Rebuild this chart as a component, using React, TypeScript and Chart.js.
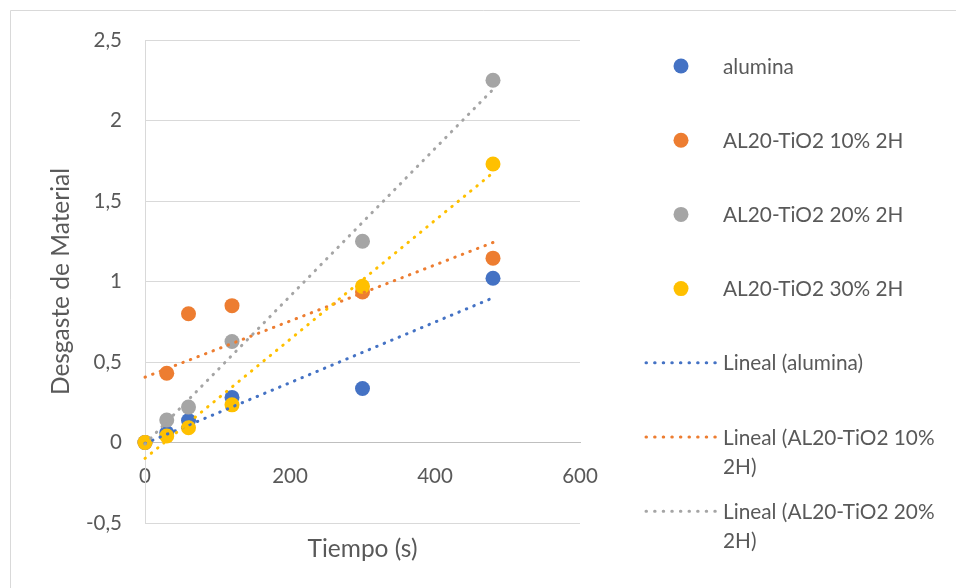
import { useEffect, useRef } from "react";
import { Chart, registerables } from "chart.js";

Chart.register(...registerables);

// Wear measurements (material loss) against test time in seconds
const TIMES = [0, 30, 60, 120, 300, 480];
const ALUMINA = [0, 0.06, 0.137, 0.28, 0.335, 1.02];
const TIO2_10 = [0, 0.43, 0.8, 0.85, 0.935, 1.145];
const TIO2_20 = [0, 0.14, 0.22, 0.627, 1.25, 2.25];
const TIO2_30 = [0, 0.04, 0.092, 0.234, 0.97, 1.73];

const SERIES_NAMES = ["alumina", "AL20-TiO2 10% 2H", "AL20-TiO2 20% 2H", "AL20-TiO2 30% 2H"];
const SERIES_VALUES = [ALUMINA, TIO2_10, TIO2_20, TIO2_30];
const SERIES_COLORS = ["#4472C4", "#ED7D31", "#A5A5A5", "#FFC000"];

const X_TICKS = [0, 200, 400, 600];
const Y_TICKS = [-0.5, 0, 0.5, 1, 1.5, 2, 2.5];

const FONT = "Lato, 'Liberation Sans', sans-serif";
const TEXT_COLOR = "#595959";
const GRID_COLOR = "#d9d9d9";
const TICK_SIZE = 20.5;
const TITLE_SIZE = 24.5;
const LEGEND_SIZE = 20.8;

// Least-squares linear trendline between first and last sample
function trendline(xs: number[], ys: number[]) {
  const n = xs.length;
  const mx = xs.reduce((a, b) => a + b, 0) / n;
  const my = ys.reduce((a, b) => a + b, 0) / n;
  let sxy = 0;
  let sxx = 0;
  for (let i = 0; i < n; i++) {
    sxy += (xs[i] - mx) * (ys[i] - my);
    sxx += (xs[i] - mx) * (xs[i] - mx);
  }
  const slope = sxy / sxx;
  const intercept = my - slope * mx;
  const x0 = Math.min(...xs);
  const x1 = Math.max(...xs);
  return [
    { x: x0, y: intercept + slope * x0 },
    { x: x1, y: intercept + slope * x1 },
  ];
}

const formatComma = (v: number) => String(v).replace(".", ",");

function wrapText(ctx: CanvasRenderingContext2D, text: string, maxWidth: number) {
  const words = text.split(" ");
  const lines: string[] = [];
  let cur = "";
  for (const w of words) {
    const test = cur ? cur + " " + w : w;
    if (cur && ctx.measureText(test).width > maxWidth) {
      lines.push(cur);
      cur = w;
    } else {
      cur = test;
    }
  }
  if (cur) lines.push(cur);
  return lines;
}

// Outer chart frame (top and left edges visible)
const framePlugin = {
  id: "frame",
  beforeDraw(chart: any) {
    const { ctx, width, height } = chart;
    ctx.save();
    ctx.fillStyle = "#ffffff";
    ctx.fillRect(0, 0, width, height);
    ctx.strokeStyle = GRID_COLOR;
    ctx.lineWidth = 1;
    ctx.beginPath();
    ctx.moveTo(10.5, height);
    ctx.lineTo(10.5, 10.5);
    ctx.lineTo(width, 10.5);
    ctx.stroke();
    ctx.restore();
  },
};

// Legend column on the right, one entry per dataset
const sideLegendPlugin = {
  id: "sideLegend",
  afterDraw(chart: any) {
    const { ctx } = chart;
    const symbolX = 681;
    const textX = 723;
    const rowGap = 74.2;
    const lineGap = 29.5;
    let y = 66;
    ctx.save();
    ctx.font = `${LEGEND_SIZE}px ${FONT}`;
    ctx.textBaseline = "alphabetic";
    ctx.textAlign = "left";
    let stop = false;
    chart.data.datasets.forEach((ds: any) => {
      if (stop) return;
      const lines = wrapText(ctx, ds.label, 226);
      if (y + (lines.length - 1) * lineGap + 12 > chart.height) {
        stop = true;
        return;
      }
      if (ds.showLine) {
        ctx.save();
        ctx.strokeStyle = ds.borderColor;
        ctx.lineWidth = 3;
        ctx.lineCap = "round";
        ctx.setLineDash([0.5, 8.1]);
        ctx.beginPath();
        ctx.moveTo(646, y);
        ctx.lineTo(716, y);
        ctx.stroke();
        ctx.restore();
      } else {
        ctx.fillStyle = ds.backgroundColor;
        ctx.beginPath();
        ctx.arc(symbolX, y, 7.5, 0, Math.PI * 2);
        ctx.fill();
      }
      ctx.fillStyle = TEXT_COLOR;
      lines.forEach((line: string, i: number) => {
        ctx.fillText(line, textX, y + 7.5 + i * lineGap);
      });
      y += rowGap;
    });
    ctx.restore();
  },
};

export default function App() {
  const canvasRef = useRef<HTMLCanvasElement>(null);

  useEffect(() => {
    if (!canvasRef.current) return;

    const markerSets = SERIES_NAMES.map((name, i) => ({
      type: "scatter" as const,
      label: name,
      data: TIMES.map((t, k) => ({ x: t, y: SERIES_VALUES[i][k] })),
      backgroundColor: SERIES_COLORS[i],
      borderColor: SERIES_COLORS[i],
      pointRadius: 7.5,
      pointHoverRadius: 7.5,
      pointBorderWidth: 0,
      showLine: false,
      clip: false as const,
      order: 8 - i,
    }));

    const trendSets = SERIES_NAMES.map((name, i) => ({
      type: "scatter" as const,
      label: `Lineal (${name})`,
      data: trendline(TIMES, SERIES_VALUES[i]),
      borderColor: SERIES_COLORS[i],
      backgroundColor: SERIES_COLORS[i],
      borderWidth: 3,
      borderDash: [0.5, 7.6],
      borderCapStyle: "round" as const,
      pointRadius: 0,
      pointHoverRadius: 0,
      showLine: true,
      clip: false as const,
      order: 4 - i,
    }));

    const chart = new Chart(canvasRef.current, {
      type: "scatter",
      data: { datasets: [...markerSets, ...trendSets] as any },
      options: {
        responsive: false,
        animation: false,
        events: [],
        layout: { padding: { top: 40, right: 376, bottom: 0, left: 0 } },
        plugins: {
          legend: { display: false },
          tooltip: { enabled: false },
        },
        scales: {
          x: {
            type: "linear",
            position: { y: 0 } as any,
            min: 0,
            max: 600,
            afterBuildTicks: (s: any) => {
              s.ticks = X_TICKS.map((v) => ({ value: v }));
            },
            afterFit: (s: any) => {
              s.paddingLeft = 0;
              s.paddingRight = 0;
            },
            ticks: {
              color: TEXT_COLOR,
              font: { family: FONT, size: TICK_SIZE },
              padding: 22,
              maxRotation: 0,
              callback: (v: any) => String(v),
            },
            grid: { display: false, drawTicks: false },
            border: { display: true, color: "#bfbfbf", width: 1 },
          },
          xTitle: {
            type: "linear",
            position: "bottom",
            min: 0,
            max: 600,
            ticks: { display: false },
            grid: { display: false, drawTicks: false },
            border: { display: false },
            afterFit: (s: any) => {
              s.height = 65;
            },
            title: {
              display: true,
              text: "Tiempo (s)",
              color: TEXT_COLOR,
              font: { family: FONT, size: TITLE_SIZE },
              padding: { top: 0, bottom: 24 },
            },
          },
          y: {
            type: "linear",
            position: "left",
            min: -0.5,
            max: 2.5,
            afterBuildTicks: (s: any) => {
              s.ticks = Y_TICKS.map((v) => ({ value: v }));
            },
            afterFit: (s: any) => {
              s.width = 145;
            },
            ticks: {
              color: TEXT_COLOR,
              font: { family: FONT, size: TICK_SIZE },
              padding: 23,
              callback: (v: any) => formatComma(Number(v)),
            },
            grid: { color: GRID_COLOR, lineWidth: 1, drawTicks: false },
            border: { display: true, color: GRID_COLOR, width: 1 },
            title: {
              display: true,
              text: "Desgaste de Material",
              color: TEXT_COLOR,
              font: { family: FONT, size: TITLE_SIZE },
              padding: { top: 46, bottom: 0 },
            },
          },
        },
      },
      plugins: [framePlugin, sideLegendPlugin],
    });

    return () => chart.destroy();
  }, []);

  return (
    <div style={{ position: "fixed", left: 0, top: 0, width: 956, height: 588, background: "#fff" }}>
      <canvas ref={canvasRef} width={956} height={588} style={{ display: "block", width: 956, height: 588 }} />
    </div>
  );
}
